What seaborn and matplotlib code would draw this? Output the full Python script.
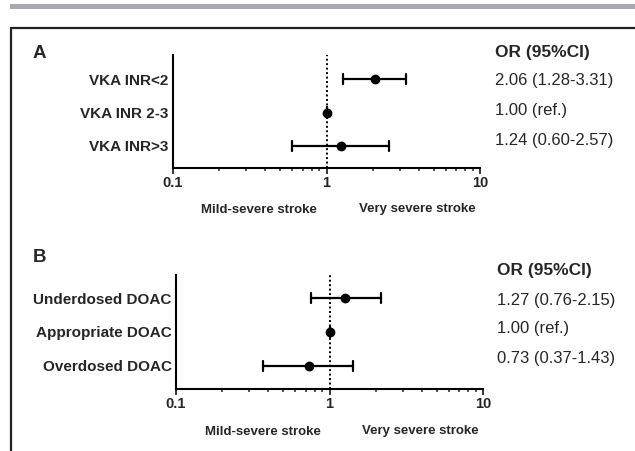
import matplotlib
matplotlib.use("Agg")
import matplotlib.pyplot as plt
import seaborn as sns
import pandas as pd
from matplotlib.lines import Line2D
from matplotlib.patches import Rectangle

# data: odds ratios with 95% CI
vka_groups = ["VKA INR<2", "VKA INR 2-3", "VKA INR>3"]
vka_or = [2.06, 1.00, 1.24]
vka_lo = [1.28, 1.00, 0.60]
vka_hi = [3.31, 1.00, 2.57]
vka_text = ["2.06 (1.28-3.31)", "1.00 (ref.)", "1.24 (0.60-2.57)"]

doac_groups = ["Underdosed DOAC", "Appropriate DOAC", "Overdosed DOAC"]
doac_or = [1.27, 1.00, 0.73]
doac_lo = [0.76, 1.00, 0.37]
doac_hi = [2.15, 1.00, 1.43]
doac_text = ["1.27 (0.76-2.15)", "1.00 (ref.)", "0.73 (0.37-1.43)"]

xticks = [0.1, 1, 10]
xtick_labels = ["0.1", "1", "10"]

sns.set_style("ticks")
plt.rcParams['font.family'] = ['Liberation Sans', 'DejaVu Sans']

W, H = 635, 451
fig = plt.figure(figsize=(W / 100, H / 100), dpi=100)


def px(x, y):
    return x / W, 1 - y / H


def long_form(groups, ors, los, his):
    rows = []
    for g, o, l, h in zip(groups, ors, los, his):
        for v in (l, o, h):
            rows.append({"group": g, "OR": v})
    return pd.DataFrame(rows)


def forest(ax, groups, ors, los, his, ylim):
    df = long_form(groups, ors, los, his)
    sns.pointplot(data=df, x="OR", y="group", order=groups, ax=ax,
                  estimator="median", errorbar=lambda v: (v.min(), v.max()),
                  log_scale=(True, False), linestyle="none", color="black",
                  markersize=5, capsize=0.3, err_kws={"linewidth": 1.6})
    ax.axvline(1, color="black", linestyle=(0, (1, 1.3)), linewidth=1.4, zorder=0)
    ax.set_xlim(0.1, 10)
    ax.set_ylim(*ylim)
    ax.set_xticks(xticks)
    ax.set_xticklabels(xtick_labels, fontsize=10.5, fontweight="bold")
    ax.minorticks_on()
    ax.yaxis.set_tick_params(which="both", length=0)
    ax.tick_params(axis="x", which="major", length=4, width=1.3, pad=2)
    ax.tick_params(axis="x", which="minor", length=2.5, width=1.1)
    ax.tick_params(axis="y", pad=3)
    for lab in ax.get_yticklabels():
        lab.set_fontweight("bold")
        lab.set_fontsize(11)
    ax.set_xlabel("")
    ax.set_ylabel("")
    sns.despine(ax=ax)
    for s in ("left", "bottom"):
        ax.spines[s].set_linewidth(1.5)
        ax.spines[s].set_color("black")


# panel A
axA = fig.add_axes([173 / W, 1 - 168 / H, 307 / W, 113 / H])
forest(axA, vka_groups, vka_or, vka_lo, vka_hi, (2.66, -0.72))
# panel B
axB = fig.add_axes([176 / W, 1 - 389 / H, 307 / W, 114 / H])
forest(axB, doac_groups, doac_or, doac_lo, doac_hi, (2.68, -0.68))

# header bar and frame
fig.add_artist(Rectangle(px(10, 9), (W - 10) / W, 5 / H, transform=fig.transFigure,
                         color="#a7a9ac", lw=0))
fig.add_artist(Line2D([11 / W, 11 / W], [0, 1 - 28 / H], transform=fig.transFigure,
                      color="#222222", lw=1.6))
fig.add_artist(Line2D([11 / W, 1], [1 - 28 / H, 1 - 28 / H], transform=fig.transFigure,
                      color="#222222", lw=1.6))

# panel letters
fig.text(*px(33, 53), "A", fontsize=13.5, fontweight="bold", va="center")
fig.text(*px(33, 258), "B", fontsize=13.5, fontweight="bold", va="center")

# OR column
fig.text(*px(495, 52), "OR (95%CI)", fontsize=12.5, fontweight="bold", va="center")
for t, y in zip(vka_text, [81, 111, 140]):
    fig.text(*px(495, y), t, fontsize=12, va="center")
fig.text(*px(497, 270), "OR (95%CI)", fontsize=12.5, fontweight="bold", va="center")
for t, y in zip(doac_text, [300, 329, 358]):
    fig.text(*px(497, y), t, fontsize=12, va="center")

# direction labels
fig.text(*px(259, 210), "Mild-severe stroke", fontsize=9.5, fontweight="bold",
         ha="center", va="center")
fig.text(*px(417, 209), "Very severe stroke", fontsize=9.5, fontweight="bold",
         ha="center", va="center")
fig.text(*px(263, 432), "Mild-severe stroke", fontsize=9.5, fontweight="bold",
         ha="center", va="center")
fig.text(*px(420, 431), "Very severe stroke", fontsize=9.5, fontweight="bold",
         ha="center", va="center")

fig.savefig("out.png", dpi=100)
